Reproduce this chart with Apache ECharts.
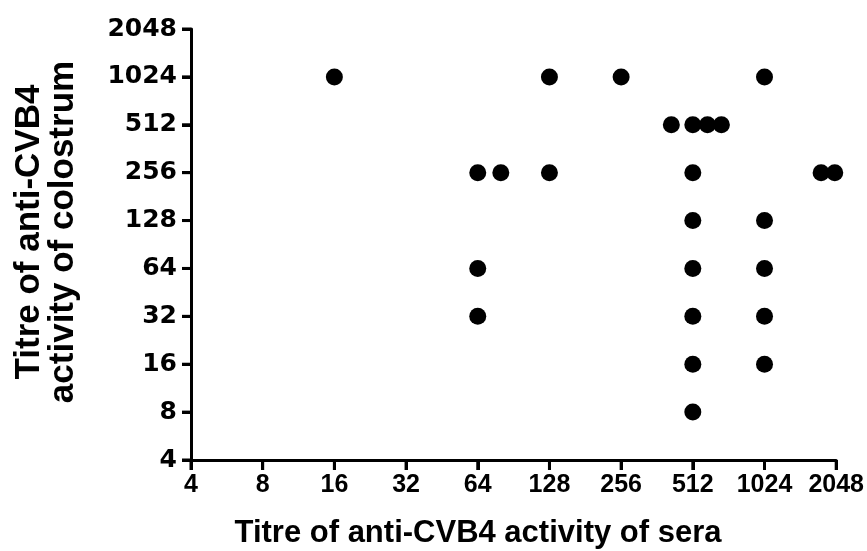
<!DOCTYPE html>
<html>
<head>
<meta charset="utf-8">
<script src="https://cdn.jsdelivr.net/npm/echarts@6/dist/echarts.min.js"></script>
<style>html,body{margin:0;padding:0;background:#fff;}#c{width:867px;height:551px;}</style>
</head>
<body>
<div id="c"></div>
<script>
// Titre of anti-CVB4 activity of sera (x) vs colostrum (y)
var seraTitre = [16, 128, 256, 1024, 416, 512, 590, 675, 64, 80, 128, 512, 1770, 2020, 512, 1024, 64, 512, 1024, 64, 512, 1024, 512, 1024, 512];
var colostrumTitre = [1024, 1024, 1024, 1024, 512, 512, 512, 512, 256, 256, 256, 256, 256, 256, 128, 128, 64, 64, 64, 32, 32, 32, 16, 16, 8];
var xTickLabels = [4, 8, 16, 32, 64, 128, 256, 512, 1024, 2048];
var yTickLabels = [4, 8, 16, 32, 64, 128, 256, 512, 1024, 2048];
var xTitle = 'Titre of anti-CVB4 activity of sera';
var yTitle = 'Titre of anti-CVB4\nactivity of colostrum';

// log2 scale: positions are log2 of the titre, labels show the titre itself
var xMin = Math.log2(xTickLabels[0]), xMax = Math.log2(xTickLabels[xTickLabels.length - 1]);
var yMin = Math.log2(yTickLabels[0]), yMax = Math.log2(yTickLabels[yTickLabels.length - 1]);
var points = seraTitre.map(function (x, i) { return [Math.log2(x), Math.log2(colostrumTitre[i])]; });

var chart = echarts.init(document.getElementById('c'));
function fmt(v) { return String(Math.round(Math.pow(2, v))); }
chart.setOption({
  animation: false,
  grid: { left: 191, right: 30, top: 29, bottom: 91 },
  xAxis: {
    type: 'value', min: xMin, max: xMax, interval: 1,
    splitLine: { show: false },
    axisLine: { show: true, lineStyle: { color: '#000', width: 3 } },
    axisTick: { show: true, length: 10, lineStyle: { color: '#000', width: 3 } },
    axisLabel: { color: '#000', fontFamily: 'Liberation Sans, Arial', fontWeight: 'bold', fontSize: 25, margin: 13, showMinLabel: true, showMaxLabel: true, formatter: fmt }
  },
  yAxis: {
    type: 'value', min: yMin, max: yMax, interval: 1,
    splitLine: { show: false },
    axisLine: { show: true, lineStyle: { color: '#000', width: 3 } },
    axisTick: { show: true, length: 9, lineStyle: { color: '#000', width: 3 } },
    axisLabel: { color: '#000', fontFamily: 'DejaVu Sans', fontWeight: 'bold', fontSize: 25, margin: 14, showMinLabel: true, showMaxLabel: true, formatter: fmt }
  },
  series: [
    {
      type: 'scatter', data: points, symbol: 'circle', symbolSize: 17, clip: false,
      itemStyle: { color: '#000', opacity: 1 }
    }
  ]
});

// Axis titles plus tick marks placed through the chart's own axis scales
var graphics = [
  { type: 'text', x: 478, y: 533, style: { text: xTitle, fill: '#000', font: 'bold 31px "Liberation Sans", Arial', textAlign: 'center', textVerticalAlign: 'middle' } },
  { type: 'text', x: 46, y: 232, rotation: Math.PI / 2, style: { text: yTitle, fill: '#000', font: 'bold 35px "Liberation Sans", Arial', textAlign: 'center', textVerticalAlign: 'middle', lineHeight: 34 } }
];
xTickLabels.forEach(function (v) {
  var p = chart.convertToPixel({ gridIndex: 0 }, [Math.log2(v), yMin]);
  if (p) graphics.push({ type: 'line', z: 100, silent: true, shape: { x1: p[0], y1: p[1], x2: p[0], y2: p[1] + 10 }, style: { stroke: '#000', lineWidth: 3 } });
});
yTickLabels.forEach(function (v) {
  var p = chart.convertToPixel({ gridIndex: 0 }, [xMin, Math.log2(v)]);
  if (p) graphics.push({ type: 'line', z: 100, silent: true, shape: { x1: p[0] - 9, y1: p[1], x2: p[0], y2: p[1] }, style: { stroke: '#000', lineWidth: 3 } });
});
chart.setOption({ graphic: graphics });
</script>
</body>
</html>
